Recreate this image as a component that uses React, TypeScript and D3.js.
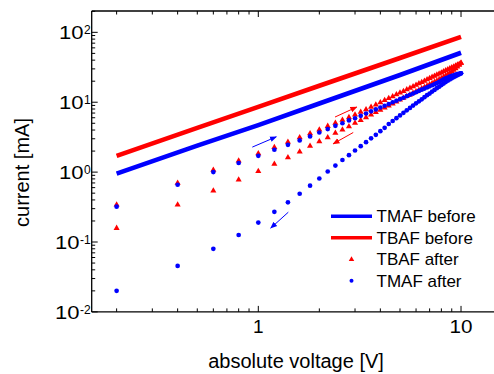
import React from "react";
import * as d3 from "d3";

const voltage = [
  0.2, 0.4, 0.6, 0.8, 1.0, 1.2, 1.4, 1.6, 1.8, 2.0,
  2.2, 2.4, 2.6, 2.8, 3.0, 3.2, 3.4, 3.6, 3.8, 4.0,
  4.2, 4.4, 4.6, 4.8, 5.0, 5.2, 5.4, 5.6, 5.8, 6.0,
  6.2, 6.4, 6.6, 6.8, 7.0, 7.2, 7.4, 7.6, 7.8, 8.0,
  8.2, 8.4, 8.6, 8.8, 9.0, 9.2, 9.4, 9.6, 9.8, 10.0,
];

const tmafAfterUp = [
  0.32, 0.66, 1.0, 1.35, 1.71, 2.09, 2.46, 2.84, 3.24, 3.69,
  4.13, 4.6, 5.0, 5.5, 5.9, 6.4, 6.9, 7.4, 7.9, 8.4,
  8.9, 9.4, 10.0, 10.5, 11.1, 11.6, 12.2, 12.8, 13.3, 13.9,
  14.5, 15.1, 15.7, 16.3, 16.9, 17.5, 18.1, 18.8, 19.6, 20.4,
  21.2, 21.9, 22.6, 23.2, 23.8, 24.3, 24.8, 25.2, 25.6, 25.9,
];

const tmafAfterDown = [
  0.02, 0.0455, 0.08, 0.126, 0.19, 0.27, 0.37, 0.49, 0.64, 0.81,
  1.02, 1.24, 1.49, 1.75, 2.04, 2.35, 2.68, 3.04, 3.42, 3.85,
  4.3, 4.88, 5.39, 5.91, 6.47, 7.05, 7.66, 8.3, 8.96, 9.65,
  10.3, 11.0, 11.8, 12.6, 13.3, 14.2, 15.0, 15.9, 16.7, 17.6,
  18.5, 19.4, 20.3, 21.2, 22.0, 22.8, 23.6, 24.4, 25.1, 25.9,
];

const tbafAfterUp = [
  0.34, 0.7, 1.07, 1.45, 1.85, 2.27, 2.7, 3.13, 3.58, 4.05,
  4.55, 5.05, 5.55, 6.07, 6.6, 7.24, 7.88, 8.55, 9.23, 9.93,
  10.65, 11.37, 12.11, 12.86, 13.63, 14.41, 15.2, 16.0, 16.81, 17.66,
  18.5, 19.3, 20.2, 21.1, 22.0, 22.9, 23.7, 24.7, 25.6, 26.5,
  27.5, 28.4, 29.4, 30.4, 31.3, 32.3, 33.3, 34.3, 35.3, 36.4,
];

const tbafAfterDown = [
  0.158, 0.34, 0.54, 0.776, 1.03, 1.31, 1.62, 1.95, 2.36, 2.74,
  3.13, 3.62, 4.04, 4.5, 5.03, 5.54, 6.07, 6.61, 7.17, 7.74,
  8.33, 8.93, 9.55, 10.18, 10.82, 11.48, 12.15, 12.83, 13.52, 14.23,
  14.94, 15.67, 16.41, 17.16, 17.93, 18.7, 19.49, 20.28, 21.09, 21.9,
  22.9, 23.9, 25.0, 26.2, 27.5, 28.9, 30.5, 32.3, 34.2, 36.4,
];

const beforeVoltage = [0.2, 0.5, 1, 2, 5, 10];
const tmafBefore = [0.95, 2.4, 4.7, 9.6, 24.5, 51];
const tbafBefore = [1.71, 4.3, 8.6, 17.2, 43, 86];

// arrows: [v0, i0, v1, i1, color]
const arrows: [number, number, number, number, string][] = [
  [0.934, 2.28, 1.227, 3.2, "#0000ff"],
  [1.406, 0.267, 1.151, 0.158, "#0000ff"],
  [2.39, 6.14, 3.06, 8.54, "#ff0000"],
  [2.94, 3.69, 2.34, 2.54, "#ff0000"],
];

const xMajor = [1, 10];
const xMajorLabels = ["1", "10"];
const yMajor = [0.01, 0.1, 1, 10, 100];
const yExp = ["-2", "-1", "0", "1", "2"];

const legendItems = [
  { label: "TMAF before", kind: "line", color: "#0000ff" },
  { label: "TBAF before", kind: "line", color: "#ff0000" },
  { label: "TBAF after", kind: "tri", color: "#ff0000" },
  { label: "TMAF after", kind: "dot", color: "#0000ff" },
];

const W = 494;
const H = 374;
const FONT = "'Liberation Sans', Arial, sans-serif";

export default function App() {
  const left = 91.7;
  const top = 11;
  const bottom = 311.9;
  const x = d3.scaleLog().domain([0.1507, 16]).range([left, 502.4]);
  const y = d3.scaleLog().domain([0.01, 202]).range([bottom, top]);

  const xMinor: number[] = [];
  [0.1, 1].forEach((d) => {
    for (let k = 2; k <= 9; k++) xMinor.push(d * k);
  });
  const yMinor: number[] = [];
  [0.01, 0.1, 1, 10, 100].forEach((d) => {
    for (let k = 2; k <= 9; k++) if (d * k <= 202) yMinor.push(d * k);
  });

  const line = d3
    .line<[number, number]>()
    .x((d) => x(d[0]))
    .y((d) => y(d[1]));

  const tmafBeforePts = beforeVoltage.map((v, i) => [v, tmafBefore[i]] as [number, number]);
  const tbafBeforePts = beforeVoltage.map((v, i) => [v, tbafBefore[i]] as [number, number]);

  const triPath = d3.symbol().type(d3.symbolTriangle).size(16)()!;
  const triPathLegend = d3.symbol().type(d3.symbolTriangle).size(13)()!;

  const stroke = "#000";
  const axisW = 1.3;

  return (
    <svg
      width={W}
      height={H}
      style={{ position: "absolute", left: 0, top: 0, background: "#fff" }}
      fontFamily={FONT}
    >
      <defs>
        <marker id="ahB" viewBox="0 0 10 10" refX="9" refY="5" markerWidth="7" markerHeight="7" orient="auto" markerUnits="userSpaceOnUse">
          <path d="M0,1 L10,5 L0,9 z" fill="#0000ff" />
        </marker>
        <marker id="ahR" viewBox="0 0 10 10" refX="9" refY="5" markerWidth="7" markerHeight="7" orient="auto" markerUnits="userSpaceOnUse">
          <path d="M0,1 L10,5 L0,9 z" fill="#ff0000" />
        </marker>
      </defs>

      {/* before lines */}
      <path d={line(tmafBeforePts)!} fill="none" stroke="#0000ff" strokeWidth={4.6} />
      <path d={line(tbafBeforePts)!} fill="none" stroke="#ff0000" strokeWidth={4.6} />

      {/* TBAF after triangles */}
      {voltage.map((v, i) => (
        <path key={"tu" + i} d={triPath} transform={`translate(${x(v)},${y(tbafAfterUp[i])})`} fill="#ff0000" />
      ))}
      {voltage.map((v, i) => (
        <path key={"td" + i} d={triPath} transform={`translate(${x(v)},${y(tbafAfterDown[i])})`} fill="#ff0000" />
      ))}

      {/* TMAF after dots */}
      {voltage.map((v, i) => (
        <circle key={"bu" + i} cx={x(v)} cy={y(tmafAfterUp[i])} r={2.35} fill="#0000ff" />
      ))}
      {voltage.map((v, i) => (
        <circle key={"bd" + i} cx={x(v)} cy={y(tmafAfterDown[i])} r={2.35} fill="#0000ff" />
      ))}

      {/* arrows */}
      {arrows.map((a, i) => (
        <line
          key={"ar" + i}
          x1={x(a[0])}
          y1={y(a[1])}
          x2={x(a[2])}
          y2={y(a[3])}
          stroke={a[4]}
          strokeWidth={1}
          markerEnd={a[4] === "#0000ff" ? "url(#ahB)" : "url(#ahR)"}
        />
      ))}

      {/* axes lines */}
      <line x1={left} y1={top} x2={W} y2={top} stroke={stroke} strokeWidth={axisW} />
      <line x1={left} y1={bottom} x2={W} y2={bottom} stroke={stroke} strokeWidth={axisW} />
      <line x1={left} y1={top} x2={left} y2={bottom} stroke={stroke} strokeWidth={axisW} />

      {/* x ticks */}
      {xMajor.map((v) => (
        <g key={"xm" + v}>
          <line x1={x(v)} x2={x(v)} y1={bottom} y2={bottom - 6} stroke={stroke} strokeWidth={1} />
          <line x1={x(v)} x2={x(v)} y1={top} y2={top + 6} stroke={stroke} strokeWidth={1} />
        </g>
      ))}
      {xMinor.map((v) => (
        <g key={"xn" + v}>
          <line x1={x(v)} x2={x(v)} y1={bottom} y2={bottom - 3.5} stroke={stroke} strokeWidth={1} />
          <line x1={x(v)} x2={x(v)} y1={top} y2={top + 3.5} stroke={stroke} strokeWidth={1} />
        </g>
      ))}
      {xMajor.map((v, i) => (
        <text
          key={"xl" + v}
          x={x(v)}
          y={333}
          fontSize={19}
          textAnchor="middle"
          fill="#000"
          {...(xMajorLabels[i].length > 1 ? { textLength: 23, lengthAdjust: "spacingAndGlyphs" } : {})}
        >
          {xMajorLabels[i]}
        </text>
      ))}

      {/* y ticks */}
      {yMajor.map((v) => (
        <line key={"ym" + v} x1={left} x2={left + 6} y1={y(v)} y2={y(v)} stroke={stroke} strokeWidth={1} />
      ))}
      {yMinor.map((v) => (
        <line key={"yn" + v} x1={left} x2={left + 3.5} y1={y(v)} y2={y(v)} stroke={stroke} strokeWidth={1} />
      ))}
      {yMajor.map((v, i) => {
        const ew = yExp[i].length > 1 ? 10.7 : 6.7;
        return (
          <g key={"yl" + v}>
            <text x={left - 1} y={y(v) + 2} fontSize={12} textAnchor="end" fill="#000">
              {yExp[i]}
            </text>
            <text
              x={left - 1.5 - ew}
              y={y(v) + 6.8}
              fontSize={19}
              textAnchor="end"
              fill="#000"
              textLength={24.5}
              lengthAdjust="spacingAndGlyphs"
            >
              10
            </text>
          </g>
        );
      })}

      {/* axis titles */}
      <text x={296} y={368} fontSize={20} textAnchor="middle" fill="#000">
        absolute voltage [V]
      </text>
      <text transform="translate(28.5,172.5) rotate(-90)" fontSize={20} textAnchor="middle" fill="#000">
        current [mA]
      </text>

      {/* legend */}
      {legendItems.map((it, i) => {
        const ly = 216.3 + i * 21.5;
        return (
          <g key={"lg" + i}>
            {it.kind === "line" && (
              <line x1={331} x2={372} y1={ly} y2={ly} stroke={it.color} strokeWidth={3.6} />
            )}
            {it.kind === "tri" && (
              <path d={triPathLegend} transform={`translate(351.5,${ly})`} fill={it.color} />
            )}
            {it.kind === "dot" && <circle cx={351.5} cy={ly} r={2} fill={it.color} />}
            <text x={376.5} y={ly + 6} fontSize={17} fill="#000">
              {it.label}
            </text>
          </g>
        );
      })}
    </svg>
  );
}
